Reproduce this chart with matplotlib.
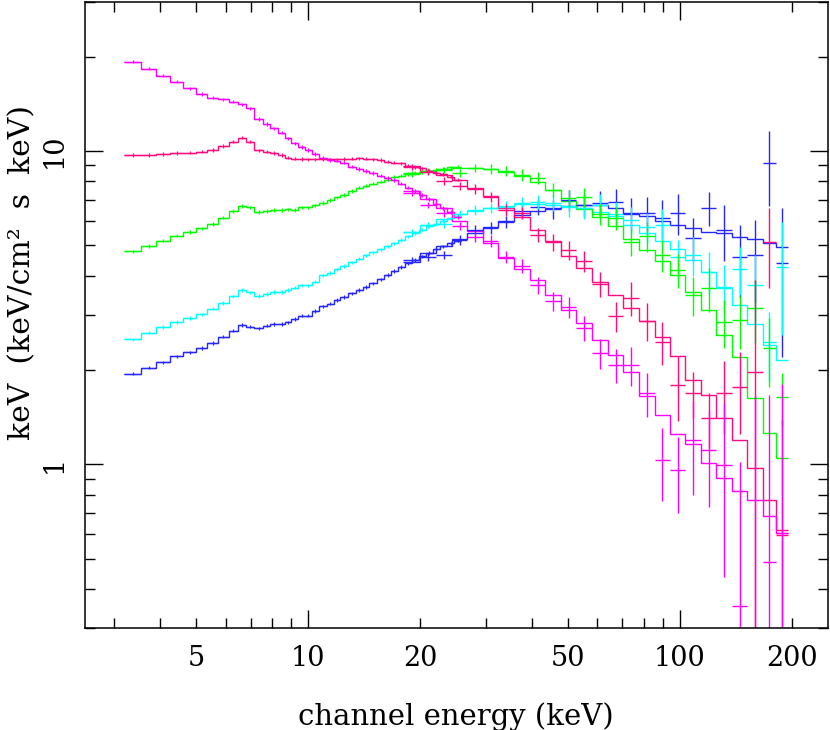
import matplotlib
matplotlib.use("Agg")
import matplotlib.pyplot as plt
import numpy as np
from matplotlib.ticker import FixedLocator, FuncFormatter, LogLocator, NullFormatter

# ---- PCA part: fine channels, 3.2 - 25.8 keV ----
pca_edges = [3.2, 3.55, 3.9, 4.25, 4.6, 5.0, 5.35, 5.7, 6.1, 6.45, 6.8, 7.15, 7.55, 7.9,
             8.3, 8.65, 9.0, 9.4, 9.8, 10.2, 10.7, 11.2, 11.7, 12.2, 12.8, 13.4, 14.0,
             14.6, 15.3, 16.0, 16.7, 17.4, 18.2, 19.0, 19.8, 20.7, 21.6, 22.6, 23.6,
             24.7, 25.8]

pca_magenta = [19.28, 18.31, 17.39, 16.64, 15.85, 15.2, 14.79, 14.62, 14.37, 14.1,
               13.69, 12.65, 12.2, 11.82, 11.44, 10.98, 10.58, 10.30, 10.07, 9.78,
               9.53, 9.36, 9.31, 9.19, 8.92, 8.76, 8.63, 8.51, 8.35, 8.20,
               8.08, 7.87, 7.64, 7.45, 7.24, 7.03, 6.80, 6.58, 6.39, 6.16]
pca_red = [9.71, 9.71, 9.78, 9.85, 9.88, 9.95, 10.07, 10.37, 10.71, 11.03,
           10.71, 10.05, 9.95, 9.85, 9.71, 9.53, 9.46, 9.43, 9.41, 9.41,
           9.41, 9.41, 9.41, 9.43, 9.45, 9.48, 9.45, 9.40, 9.36, 9.24,
           9.19, 9.14, 8.99, 8.89, 8.80, 8.66, 8.54, 8.44, 8.29, 8.11]
pca_green = [4.786, 4.976, 5.173, 5.367, 5.515, 5.667, 5.848, 6.125, 6.435, 6.676,
             6.612, 6.388, 6.435, 6.483, 6.483, 6.516, 6.483, 6.612, 6.612, 6.71,
             6.824, 6.977, 7.107, 7.239, 7.45, 7.645, 7.759, 7.874, 7.991, 8.11,
             8.26, 8.35, 8.445, 8.51, 8.57, 8.646, 8.71, 8.79, 8.87, 8.905]
pca_cyan = [2.506, 2.63, 2.745, 2.848, 2.933, 3.014, 3.14, 3.274, 3.439, 3.602,
            3.54, 3.447, 3.498, 3.548, 3.548, 3.602, 3.664, 3.729, 3.729, 3.828,
            4.007, 4.081, 4.187, 4.296, 4.408, 4.533, 4.641, 4.744, 4.85, 4.958,
            5.069, 5.2, 5.336, 5.475, 5.617, 5.764, 5.87, 5.98, 6.092, 6.205]
pca_blue = [1.946, 2.033, 2.116, 2.211, 2.277, 2.35, 2.438, 2.555, 2.67, 2.784,
            2.75, 2.718, 2.77, 2.805, 2.805, 2.84, 2.91, 2.981, 2.981, 3.086,
            3.19, 3.26, 3.345, 3.42, 3.509, 3.602, 3.682, 3.778, 3.891, 4.022,
            4.14, 4.265, 4.376, 4.491, 4.606, 4.725, 4.85, 4.958, 5.069, 5.18]

# ---- HEXTE part: wide bins, 18 - 195 keV ----
hx_edges = [18, 20, 22, 24.3, 26.8, 29.5, 32.5, 35.8, 39.4, 43.4, 47.8, 52.6, 58, 64,
            70.5, 77.6, 85.5, 94, 103.5, 114, 125.5, 138, 152, 167, 181, 195]

hx_magenta_model = [7.45, 7.03, 6.58, 5.98, 5.575, 5.086, 4.556, 4.2, 3.875, 3.47,
                    3.109, 2.825, 2.493, 2.233, 1.971, 1.652, 1.437, 1.249, 1.161, 1.01,
                    0.904, 0.822, 0.769, 0.684, 0.603]
hx_magenta_data = [7.34, 6.725, 6.34, 5.764, 5.314, 5.16, 4.589, 4.296, 3.737, 3.32,
                   3.177, 2.723, 2.265, 2.074, 2.074, 1.689, 1.032, 0.959, 1.195, 1.111,
                   0.995, 0.353, 0.15, 0.488, 0.603]
hx_magenta_err = [0.16, 0.15, 0.19, 0.17, 0.2, 0.23, 0.21, 0.23, 0.23, 0.23,
                  0.24, 0.25, 0.25, 0.26, 0.29, 0.27, 0.27, 0.26, 0.4, 0.38,
                  0.56, 0.66, 1.5, 1.18, 1.2]

hx_red_model = [8.956, 8.63, 8.385, 8.08, 7.619, 7.186, 6.58, 6.157, 5.597, 5.16,
                4.623, 4.233, 3.82, 3.47, 3.155, 2.867, 2.549, 2.216, 1.858, 1.664,
                1.405, 1.195, 0.973, 0.769, 0.617]
hx_red_data = [8.89, 8.57, 8.02, 7.73, 7.56, 7.13, 6.48, 6.34, 5.39, 5.12,
               4.83, 4.456, 3.762, 2.973, 3.395, 2.867, 2.457, 1.791, 1.689, 1.405,
               1.689, 1.765, 1.975, 5.12, 0.595]
hx_red_err = [0.2, 0.19, 0.24, 0.23, 0.28, 0.27, 0.29, 0.29, 0.28, 0.31,
              0.33, 0.34, 0.35, 0.32, 0.42, 0.4, 0.39, 0.42, 0.28, 0.28,
              0.44, 0.52, 1.9, 1.46, 0.79]

hx_green_model = [8.51, 8.63, 8.76, 8.86, 8.83, 8.76, 8.60, 8.35, 7.96, 7.51,
                  6.92, 6.55, 6.18, 5.76, 5.256, 4.83, 4.44, 4.02, 3.56, 3.11,
                  2.587, 2.2, 1.628, 1.258, 1.047]
hx_green_data = [8.445, 8.63, 8.69, 8.51, 8.83, 8.76, 8.63, 8.385, 8.2, 7.51,
                 7.08, 7.13, 6.295, 6.11, 5.124, 5.355, 4.656, 4.17, 3.47, 3.652,
                 2.845, 2.887, 3.155, 2.35, 1.64]
hx_green_err = [0.19, 0.19, 0.19, 0.25, 0.26, 0.33, 0.32, 0.38, 0.37, 0.4,
                0.43, 0.49, 0.48, 0.51, 0.51, 0.58, 0.54, 0.52, 0.49, 0.58,
                0.5, 0.56, 0.72, 0.58, 0.32]

hx_cyan_model = [5.515, 5.80, 6.067, 6.295, 6.435, 6.58, 6.70, 6.76, 6.775, 6.75,
                 6.676, 6.60, 6.41, 6.205, 5.785, 5.455, 5.16, 4.867, 4.49, 4.11,
                 3.652, 3.226, 2.805, 2.403, 2.152]
hx_cyan_data = [5.515, 5.80, 5.848, 6.295, 6.483, 6.58, 6.63, 6.824, 6.874, 6.824,
                6.63, 6.58, 6.725, 6.295, 6.023, 5.72, 5.80, 4.589, 4.656, 4.11,
                3.682, 4.2, 3.737, 2.457, 4.265]
hx_cyan_err = [0.12, 0.13, 0.17, 0.19, 0.24, 0.25, 0.3, 0.31, 0.35, 0.4,
               0.45, 0.5, 0.56, 0.57, 0.6, 0.62, 0.72, 0.61, 0.66, 0.65,
               0.64, 0.74, 0.92, 0.61, 1.67]

hx_blue_model = [4.42, 4.725, 4.976, 5.238, 5.475, 5.72, 5.98, 6.226, 6.435, 6.58,
                 6.676, 6.75, 6.725, 6.555, 6.318, 6.205, 6.0, 5.826, 5.66, 5.535,
                 5.455, 5.314, 5.238, 5.086, 4.94]
hx_blue_data = [4.49, 4.589, 4.656, 5.2, 5.597, 5.678, 5.935, 6.435, 6.63, 6.53,
                6.977, 6.725, 6.824, 6.874, 6.34, 6.34, 6.11, 6.34, 5.277, 6.58,
                5.597, 4.589, 4.656, 9.156, 4.4]
hx_blue_err = [0.1, 0.14, 0.14, 0.19, 0.21, 0.26, 0.27, 0.34, 0.4, 0.45,
               0.53, 0.56, 0.63, 0.69, 0.72, 0.77, 0.86, 0.95, 0.83, 0.8,
               1.15, 1.2, 1.36, 2.47, 2.2]

spectra = [
    ("#2626ff", pca_blue, hx_blue_model, hx_blue_data, hx_blue_err),
    ("#00ffff", pca_cyan, hx_cyan_model, hx_cyan_data, hx_cyan_err),
    ("#00ff00", pca_green, hx_green_model, hx_green_data, hx_green_err),
    ("#ff0a7f", pca_red, hx_red_model, hx_red_data, hx_red_err),
    ("#ff00ff", pca_magenta, hx_magenta_model, hx_magenta_data, hx_magenta_err),
]

plt.rcParams["font.family"] = ["DejaVu Serif"]


def bin_geometry(edges):
    e = np.asarray(edges, dtype=float)
    mid = 0.5 * (e[:-1] + e[1:])
    return mid, mid - e[:-1], e[1:] - mid


fig = plt.figure(figsize=(8.3, 7.3), dpi=100)
ax = fig.add_axes([0.102, 0.1397, 0.8952, 0.8581])
ax.set_xscale("log")
ax.set_yscale("log")

pca_mid, pca_xlo, pca_xhi = bin_geometry(pca_edges)
hx_mid, hx_xlo, hx_xhi = bin_geometry(hx_edges)

for color, pca, model, data, err in spectra:
    pca = np.asarray(pca)
    ax.stairs(pca, pca_edges, baseline=None, color=color, lw=1.0)
    ax.errorbar(pca_mid, pca, xerr=[pca_xlo, pca_xhi], yerr=pca * 0.012,
                fmt="none", ecolor=color, elinewidth=0.9)
    data = np.asarray(data)
    err = np.asarray(err)
    lower = np.minimum(err, data - 1e-3)
    ax.stairs(model, hx_edges, baseline=None, color=color, lw=1.0)
    ax.errorbar(hx_mid, data, xerr=[hx_xlo, hx_xhi], yerr=[lower, err],
                fmt="none", ecolor=color, elinewidth=1.0)

ax.set_xlim(2.5, 250)
ax.set_ylim(0.3, 30)

ax.xaxis.set_major_locator(FixedLocator([10, 100]))
ax.xaxis.set_minor_locator(LogLocator(base=10, subs=np.arange(2, 10), numticks=20))
ax.xaxis.set_major_formatter(FuncFormatter(lambda v, p: f"{v:g}"))
ax.xaxis.set_minor_formatter(
    FuncFormatter(lambda v, p: f"{v:g}" if round(v) in (5, 20, 50, 200) else ""))

ax.yaxis.set_major_locator(FixedLocator([1, 10]))
ax.yaxis.set_minor_locator(LogLocator(base=10, subs=np.arange(2, 10), numticks=20))
ax.yaxis.set_major_formatter(FuncFormatter(lambda v, p: f"{v:g}"))
ax.yaxis.set_minor_formatter(NullFormatter())

ax.tick_params(which="both", direction="in", top=True, right=True, width=1.0,
               labelsize=19.5, pad=12)
ax.tick_params(which="major", length=13)
ax.tick_params(which="minor", length=7)
for lab in ax.get_yticklabels():
    lab.set_rotation(90)
    lab.set_va("center")

for s in ax.spines.values():
    s.set_linewidth(1.1)

ax.set_xlabel("channel energy (keV)", fontsize=21, va="center")
ax.xaxis.set_label_coords(0.5, -0.141)
ax.set_ylabel("keV  (keV/cm²  s  keV)", fontsize=21.5, va="center")
ax.yaxis.set_label_coords(-0.084, 0.568)

fig.savefig("out.png", dpi=100)
